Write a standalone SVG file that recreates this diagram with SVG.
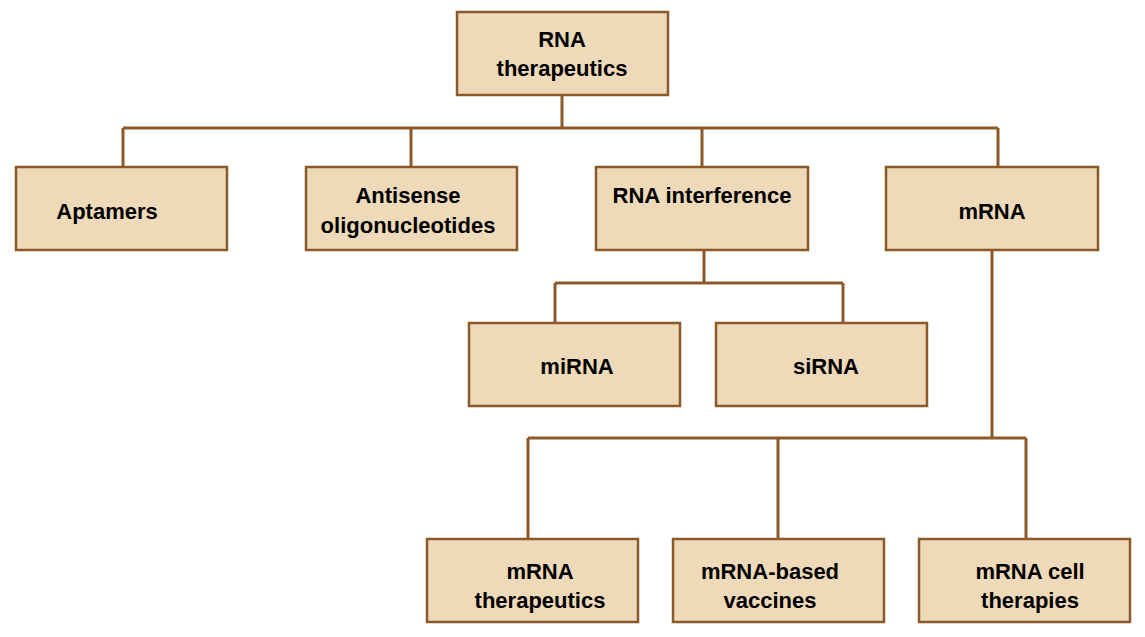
<svg xmlns="http://www.w3.org/2000/svg" width="1145" height="637" viewBox="0 0 1145 637">
<style>
.box{fill:#EED9B8;stroke:#8B5A2B;stroke-width:2.5}
.lbl{font-family:"Liberation Sans",Arial,sans-serif;font-weight:bold;font-size:22px;fill:#000;text-anchor:middle}
.conn{fill:none;stroke:#8B5A2B;stroke-width:3}
</style>
<rect width="1145" height="637" fill="#fff"/>
<g id="connectors">
<path class="conn" d="M562 95V128M123 128H998M123 128V167M411 128V167M702 128V167M998 128V167"/>
<path class="conn" d="M704 250V283M555 283H843M555 283V323M843 283V323"/>
<path class="conn" d="M992 250V438M528 438H1026M528 438V539M778 438V539M1026 438V539"/>
</g>
<g id="root"><rect class="box" x="457" y="12" width="211" height="83"/><text class="lbl" x="562" y="47">RNA</text><text class="lbl" x="562" y="76">therapeutics</text></g>
<g id="aptamers"><rect class="box" x="16" y="167" width="211" height="83"/><text class="lbl" x="107" y="219">Aptamers</text></g>
<g id="antisense"><rect class="box" x="306" y="167" width="211" height="83"/><text class="lbl" x="408" y="203">Antisense</text><text class="lbl" x="408" y="233">oligonucleotides</text></g>
<g id="rnai"><rect class="box" x="596" y="167" width="212" height="83"/><text class="lbl" x="702" y="203">RNA interference</text></g>
<g id="mrna"><rect class="box" x="886" y="167" width="212" height="83"/><text class="lbl" x="992" y="219">mRNA</text></g>
<g id="mirna"><rect class="box" x="469" y="323" width="211" height="83"/><text class="lbl" x="577" y="374">miRNA</text></g>
<g id="sirna"><rect class="box" x="716" y="323" width="211" height="83"/><text class="lbl" x="826" y="374">siRNA</text></g>
<g id="mrna-therapeutics"><rect class="box" x="427" y="539" width="211" height="83"/><text class="lbl" x="540" y="579">mRNA</text><text class="lbl" x="540" y="608">therapeutics</text></g>
<g id="mrna-vaccines"><rect class="box" x="673" y="539" width="211" height="83"/><text class="lbl" x="770" y="579">mRNA-based</text><text class="lbl" x="770" y="608">vaccines</text></g>
<g id="mrna-cell"><rect class="box" x="919" y="539" width="211" height="83"/><text class="lbl" x="1030" y="579">mRNA cell</text><text class="lbl" x="1030" y="608">therapies</text></g>
</svg>
